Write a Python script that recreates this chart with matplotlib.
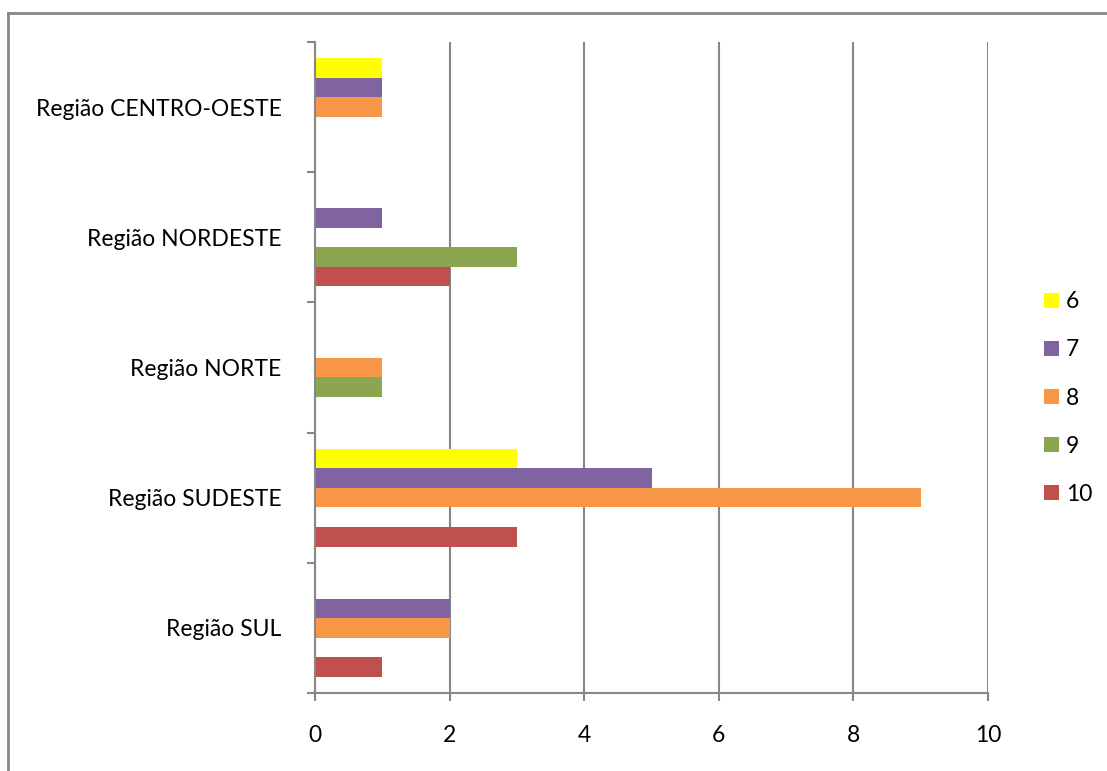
import matplotlib
matplotlib.use("Agg")
import matplotlib.pyplot as plt
from matplotlib.lines import Line2D
from matplotlib.patches import Patch
import numpy as np

plt.rcParams['font.family'] = ['Lato', 'DejaVu Sans']

categories = ["Região SUL", "Região SUDESTE", "Região NORTE", "Região NORDESTE", "Região CENTRO-OESTE"]
series_names = ["6", "7", "8", "9", "10"]
values = {
    "6":  [0, 3, 0, 0, 1],
    "7":  [2, 5, 0, 1, 1],
    "8":  [2, 9, 1, 0, 1],
    "9":  [0, 0, 1, 3, 0],
    "10": [1, 3, 0, 2, 0],
}
colors = {"6": "#FFFF00", "7": "#8064A2", "8": "#F79646", "9": "#8BA650", "10": "#C0504D"}
x_ticks = [0, 2, 4, 6, 8, 10]

FS = 16.5
GRAY = "#878787"

fig = plt.figure(figsize=(11.07, 7.71), dpi=100)
ax = fig.add_axes([315/1107, 1-693/771, (988-315)/1107, (693-42)/771])

h = 0.15
y = np.arange(len(categories))
for j, s in enumerate(series_names):
    off = (2 - j) * h
    ax.barh(y + off, values[s], height=h, color=colors[s], linewidth=0, zorder=3)

ax.set_xlim(0, 10)
ax.set_ylim(-0.5, len(categories) - 0.5)
ax.set_xticks(x_ticks)
ax.set_xticklabels([str(t) for t in x_ticks], fontsize=FS)
ax.set_yticks(y)
ax.set_yticklabels(categories, fontsize=FS)
ax.set_yticks(np.arange(-0.5, len(categories)), minor=True)
ax.tick_params(axis='y', which='major', length=0, pad=24)
ax.tick_params(axis='y', which='minor', length=6, width=1.5, color=GRAY, direction='out')
ax.tick_params(axis='x', which='major', length=6, width=1.5, color=GRAY, direction='out', pad=17)

ax.grid(axis='x', color=GRAY, linewidth=1.5, zorder=0)
for sp in ['top', 'right']:
    ax.spines[sp].set_visible(False)
for sp in ['left', 'bottom']:
    ax.spines[sp].set_color(GRAY)
    ax.spines[sp].set_linewidth(1.5)
    ax.spines[sp].set_zorder(4)

handles = [Patch(facecolor=colors[s], linewidth=0) for s in series_names]
fig.legend(handles, series_names, loc='center left', bbox_to_anchor=(1044/1107, 1-398/771),
           frameon=False, fontsize=FS, handlelength=0.66, handleheight=0.66, handletextpad=0.3,
           labelspacing=1.18, borderaxespad=0, borderpad=0)

# outer chart border (left and top visible)
fig.add_artist(Line2D([8/1107, 8/1107], [0, 1-13/771], color=GRAY, linewidth=2, transform=fig.transFigure))
fig.add_artist(Line2D([8/1107, 1], [1-13/771, 1-13/771], color=GRAY, linewidth=2, transform=fig.transFigure))

fig.savefig("out.png", dpi=100)
